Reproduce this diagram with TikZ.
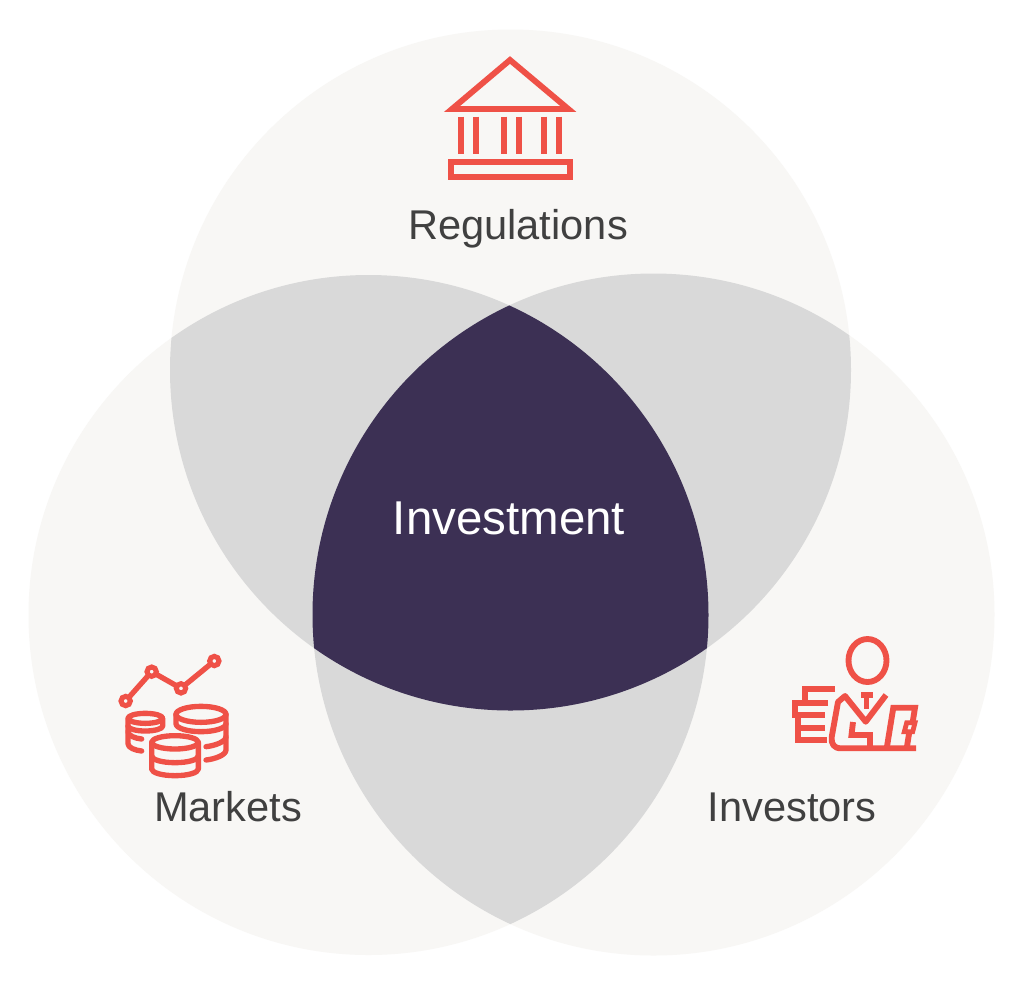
\documentclass[tikz,border=0pt]{standalone}
\usepackage{fontspec}
\setmainfont{Liberation Sans}
\definecolor{lightc}{HTML}{F8F7F5}
\definecolor{grayc}{HTML}{D9D9D9}
\definecolor{darkc}{HTML}{3C3054}
\definecolor{redc}{HTML}{EF5147}
\definecolor{textc}{HTML}{404040}
\tikzset{
  lab/.style={font=\fontsize{31.2}{36}\selectfont,text=textc,inner sep=0pt,anchor=base},
  labw/.style={font=\fontsize{35.6}{40}\selectfont,text=white,inner sep=0pt,anchor=base},
  ico/.style={draw=redc,line width=4.4pt,line join=miter,miter limit=10,fill=none},
  icor/.style={ico,line width=4pt,line join=round,line cap=round},
  zoomA/.style={shift={(430,40)},x=.25pt,y=-.25pt},
  zoomB/.style={shift={(105,640)},x=.25pt,y=-.25pt},
  zoomD/.style={shift={(120,695)},x=.25pt,y=-.25pt}
}
\def\ctop{(510.5,370) circle [radius=340.5]}
\def\cleft{(368.5,615) circle [radius=340]}
\def\cright{(653.5,614.5) circle [radius=341]}
\begin{document}
\begin{tikzpicture}[x=.75pt,y=-.75pt]
\useasboundingbox (0,0) rectangle (1024,983);
\fill[white] (0,0) rectangle (1024,983);
\fill[lightc] \ctop;
\fill[lightc] \cleft;
\fill[lightc] \cright;
\begin{scope}\clip \ctop; \fill[grayc] \cleft; \end{scope}
\begin{scope}\clip \ctop; \fill[grayc] \cright; \end{scope}
\begin{scope}\clip \cleft; \fill[grayc] \cright; \end{scope}
\begin{scope}\clip \ctop; \clip \cleft; \fill[darkc] \cright; \end{scope}
% labels
\node[lab] (reg) at (518,239) {Regulations};
\node[labw] (inv) at (509,534) {Investment};
\node[lab] (mkt) at (228,821) {Markets};
\node[lab] (ivs) at (792,821) {Investors};
% bank
\begin{scope}[zoomA]
\draw[ico] (66,207) -- (240,60) -- (415,207) -- cycle;
\foreach \x in {93,138,221,267,343,388} \draw[ico] (\x,230) -- (\x,343);
\draw[ico] (62,365) rectangle (420,411);
\end{scope}
% markets line
\begin{scope}[zoomB]
\draw[icor] (62,183) -- (140,95) -- (228,145) -- (328,63);
\foreach \x/\y in {62/183,140/95,228/145,328/63}
  \draw[draw=redc,line width=3.8pt,fill=lightc] (\x,\y) circle [radius=14];
\end{scope}
% coins
\begin{scope}[zoomD]
% right stack
\draw[icor] (243,58) ellipse [x radius=75,y radius=24];
\draw[icor] (168,58) -- (168,86) arc[start angle=180,end angle=0,x radius=75,y radius=24] -- (318,58);
\draw[icor] (318,86) -- (318,165) .. controls (318,180) and (285,192) .. (258,195);
\draw[icor] (318,125) .. controls (318,140) and (285,152) .. (258,155);
% left stack
\draw[icor] (76,70) ellipse [x radius=52,y radius=15];
\draw[icor] (24,70) -- (24,93) arc[start angle=180,end angle=0,x radius=52,y radius=15] -- (128,70);
\draw[icor] (24,93) -- (24,146) .. controls (24,158) and (45,166) .. (65,168);
\draw[icor] (24,110) .. controls (24,122) and (45,130) .. (65,132);
% front stack
\draw[icor] (165,142) ellipse [x radius=70,y radius=20];
\draw[icor] (95,142) -- (95,222) arc[start angle=180,end angle=0,x radius=70,y radius=20] -- (235,142);
\draw[icor] (95,183) arc[start angle=180,end angle=0,x radius=70,y radius=20];
\end{scope}
% investors
\draw[ico] (867.5,660.5) ellipse [x radius=19,y radius=21.5];
\draw[ico,line width=4pt] (861,695) -- (873,695) (866.8,695) -- (866.8,709);
\draw[ico] (835,689.3) -- (805,689.3) -- (805,702.7);
\draw[ico] (828,702.7) -- (795,702.7) -- (795,715) -- (825,715);
\draw[ico] (825,727.7) -- (798,727.7);
\draw[ico] (798,715) -- (798,740) -- (827,740);
\draw[ico,line join=round] (886,695) -- (865.7,721.7) -- (845,696) -- (838,702) -- (831.7,737)
  .. controls (831,744) and (834,748.3) .. (841,748.3) -- (916,748.3);
\draw[ico] (853,722) -- (851.5,735) -- (870,735) -- (870,748.3);
\draw[ico] (886.7,748.3) -- (893.3,707.7) -- (915,707.7) -- (912.7,722);
\draw[ico,line width=3.6pt] (906.7,722.7) -- (915,722.7) -- (912.7,731.7) -- (904.3,731.7) -- cycle;
\draw[ico] (909.3,732) -- (906.7,748.3);
\end{tikzpicture}
\end{document}
